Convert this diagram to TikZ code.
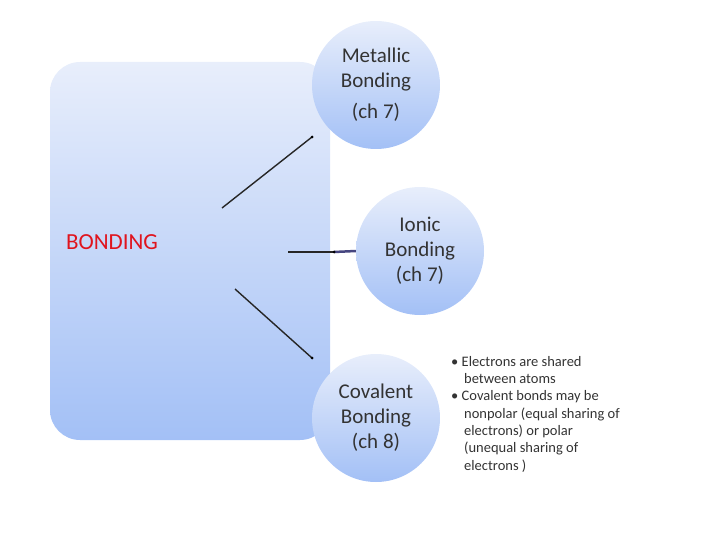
\documentclass[tikz,border=0pt]{standalone}
\usepackage{fontspec}
\setmainfont{Carlito}
\definecolor{ctop}{HTML}{E8EEFB}
\definecolor{cbot}{HTML}{A3C0F6}
\definecolor{txt}{HTML}{333333}
\definecolor{bred}{HTML}{E0141E}
\begin{document}
\begin{tikzpicture}[x=1pt,y=-1pt,
  circ/.style={circle,minimum size=128pt,inner sep=0pt,top color=ctop,bottom color=cbot,draw=none,align=center,font=\fontsize{21}{25}\selectfont,text=txt},
  conn/.style={black!85,line width=1.4pt}]
\useasboundingbox (0,0) rectangle (720,540);
\node[rounded corners=30pt,minimum width=280pt,minimum height=378pt,top color=ctop,bottom color=cbot,inner sep=0pt] (box) at (190,251) {};
\node[text=bred,font=\fontsize{23}{26}\selectfont] (bond) at (112,242) {BONDING};
\node[circ] (m) at (376,85) {Metallic\\Bonding\\[6pt](ch 7)};
\node[circ] (i) at (420,251) {Ionic\\Bonding\\(ch 7)};
\node[circ] (c) at (376,418) {Covalent\\Bonding\\(ch 8)};
\coordinate (a1) at (222,208); \coordinate (a2) at (312,137);
\coordinate (b1) at (288,252); \coordinate (b2) at (334,252);
\coordinate (c1) at (235,289); \coordinate (c2) at (312,358);
\draw[conn] (a1) -- (a2); \fill (a2) circle (1.5pt);
\draw[conn] (b1) -- (b2); \draw[line width=2.5pt,black!50!blue!45!gray] (b2) -- (i.west); \fill (b2) circle (1.5pt);
\draw[conn] (c1) -- (c2); \fill (c2) circle (1.5pt);
\node[anchor=north west,align=left,font=\fontsize{14.5}{17.3}\selectfont,text=txt,inner sep=0pt] (t) at (451,356)
{\textbullet\ Electrons are shared\\
\hspace*{13pt}between atoms\\
\textbullet\ Covalent bonds may be\\
\hspace*{13pt}nonpolar (equal sharing of\\
\hspace*{13pt}electrons) or polar\\
\hspace*{13pt}(unequal sharing of\\
\hspace*{13pt}electrons )};
\end{tikzpicture}
\end{document}
